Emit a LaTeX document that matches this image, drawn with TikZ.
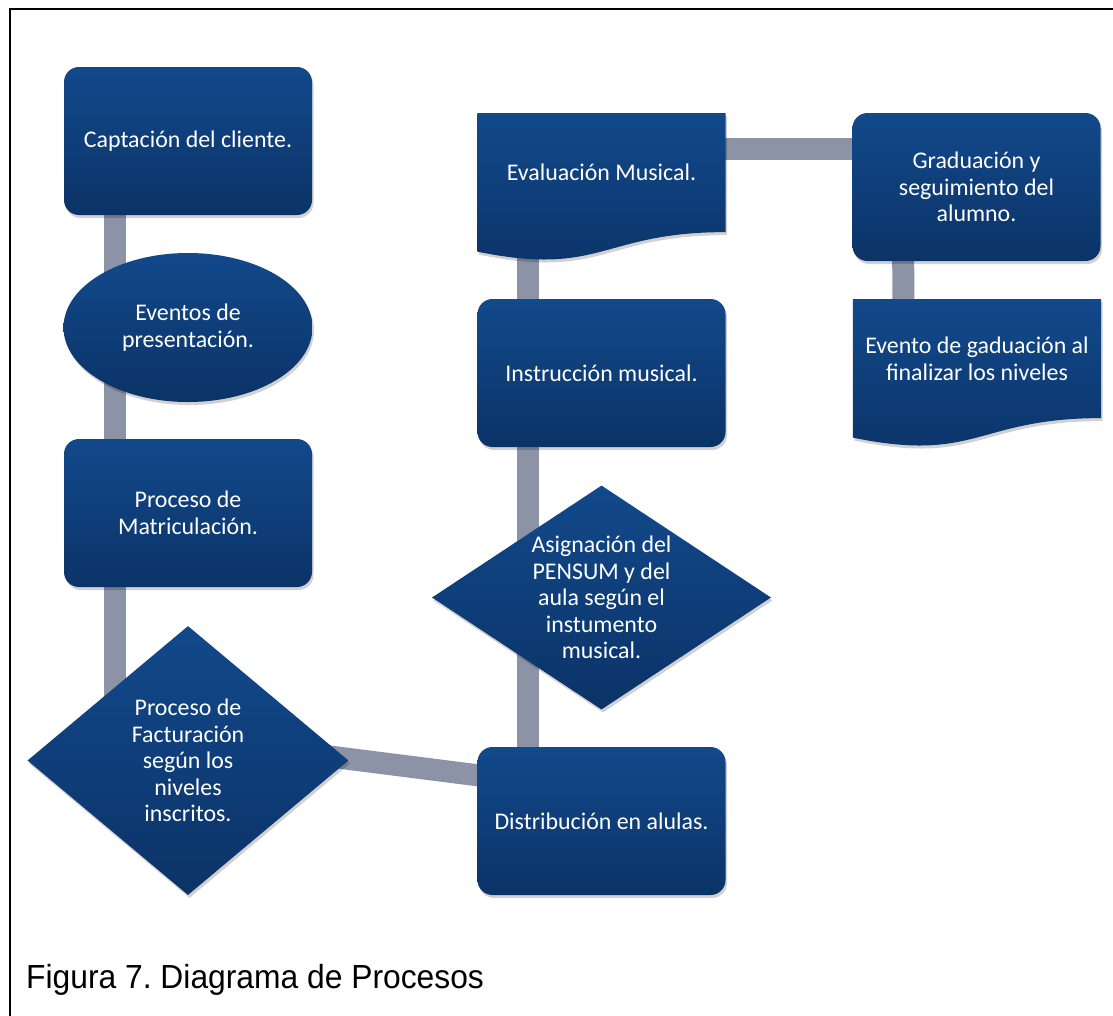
\documentclass[tikz,border=0pt]{standalone}
\usepackage{fontspec}
\setmainfont{Carlito}
\newfontfamily\capfont{Liberation Sans}
\usetikzlibrary{shapes.geometric,shadows,calc}
\definecolor{boxtop}{RGB}{18,73,139}
\definecolor{boxbot}{RGB}{11,51,103}
\definecolor{barcol}{RGB}{140,147,166}
\pgfdeclarelayer{bg}
\pgfdeclarelayer{bars}
\pgfdeclarelayer{shapes}
\pgfsetlayers{bg,bars,shapes,main}
\frenchspacing
\tikzset{
  shp/.style={shading=axis, top color=boxtop, bottom color=boxbot, draw=none,
    drop shadow={shadow xshift=1.5pt, shadow yshift=-3pt, opacity=0.18, fill=black}},
  txt/.style={text=white, align=center, font=\fontsize{23.9}{26.6}\selectfont},
  rbox/.style={shp, txt, rectangle, rounded corners=15pt, minimum width=248pt, minimum height=148pt, inner sep=0pt},
  oval/.style={shp, txt, ellipse, minimum width=249pt, minimum height=149pt, inner sep=0pt},
  dia/.style={shp, diamond, inner sep=0pt},
  doctext/.style={txt, rectangle, draw=none, minimum width=248pt, minimum height=118.7pt, inner sep=0pt, anchor=north},
  bar/.style={draw=barcol, line width=22pt},
}
\begin{document}
\begin{tikzpicture}[x=1pt,y=-1pt]
\useasboundingbox (0,0) rectangle (1113,1015);
\begin{pgfonlayer}{bg}
\fill[white] (0,0) rectangle (1113,1015);
\end{pgfonlayer}
% frame
\draw[line width=2pt] (10,1025) -- (10,9) -- (1125,9);

% left column
\node[rbox] (capt) at (188,141) {Captación del cliente.};
\node[oval] (event) at (188,327.5) {Eventos de\\presentación.};
\node[rbox] (matr) at (188,513) {Proceso de\\Matriculación.};
\node[dia, minimum width=321pt, minimum height=269pt] (fact) at (188,760.5) {};
\node[txt] (facttxt) at (fact.center) {Proceso de\\Facturación\\según los\\niveles\\inscritos.};

% middle column
\node[rbox] (dist) at (601.5,821) {Distribución en alulas.};
\node[dia, minimum width=339pt, minimum height=224pt] (asig) at (601.5,597.5) {};
\node[txt] (asigtxt) at (asig.center) {Asignación del\\PENSUM y del\\aula según el\\instumento\\musical.};
\node[rbox] (instr) at (601.5,373) {Instrucción musical.};
\node[doctext] (eval) at (601.5,113) {Evaluación Musical.};

% right column
\node[rbox] (grad) at (976.5,187) {Graduación y\\seguimiento del\\alumno.};
\node[doctext] (evgr) at (977,299) {Evento de gaduación al\\finalizar los niveles};

% document shapes
\begin{pgfonlayer}{shapes}
\path[shp] (eval.north west) -- (eval.north east) -- (eval.south east)
  .. controls (eval.south) and ($(eval.south)+(0,45.2)$) .. ($(eval.south west)+(0,19.5)$) -- cycle;
\path[shp] (evgr.north west) -- (evgr.north east) -- (evgr.south east)
  .. controls (evgr.south) and ($(evgr.south)+(0,45.2)$) .. ($(evgr.south west)+(0,19.5)$) -- cycle;
\end{pgfonlayer}

% connectors
\begin{pgfonlayer}{bars}
\draw[bar] ($(capt.center)+(-73,0)$) -- ($(fact.center)+(-73,0)$);
\draw[bar] ($(fact.center)+(0,-22)$) -- ($(dist.center)+(0,-30)$);
\draw[bar] ($(eval.center)+(-73.5,0)$) -- ($(dist.center)+(-73.5,0)$);
\draw[bar] ($(eval.north)+(0,36)$) -- ($(grad.center)+(0,-38)$);
\draw[bar] ($(grad.center)+(-73.5,0)$) -- ($(evgr.center)+(-73.5,0)$);
\end{pgfonlayer}

% caption
\node[anchor=base west, inner sep=0pt, font=\capfont\fontsize{31.8}{38}\selectfont, yscale=1.05] (cap) at (26,988) {Figura 7. Diagrama de Procesos};
\end{tikzpicture}
\end{document}
